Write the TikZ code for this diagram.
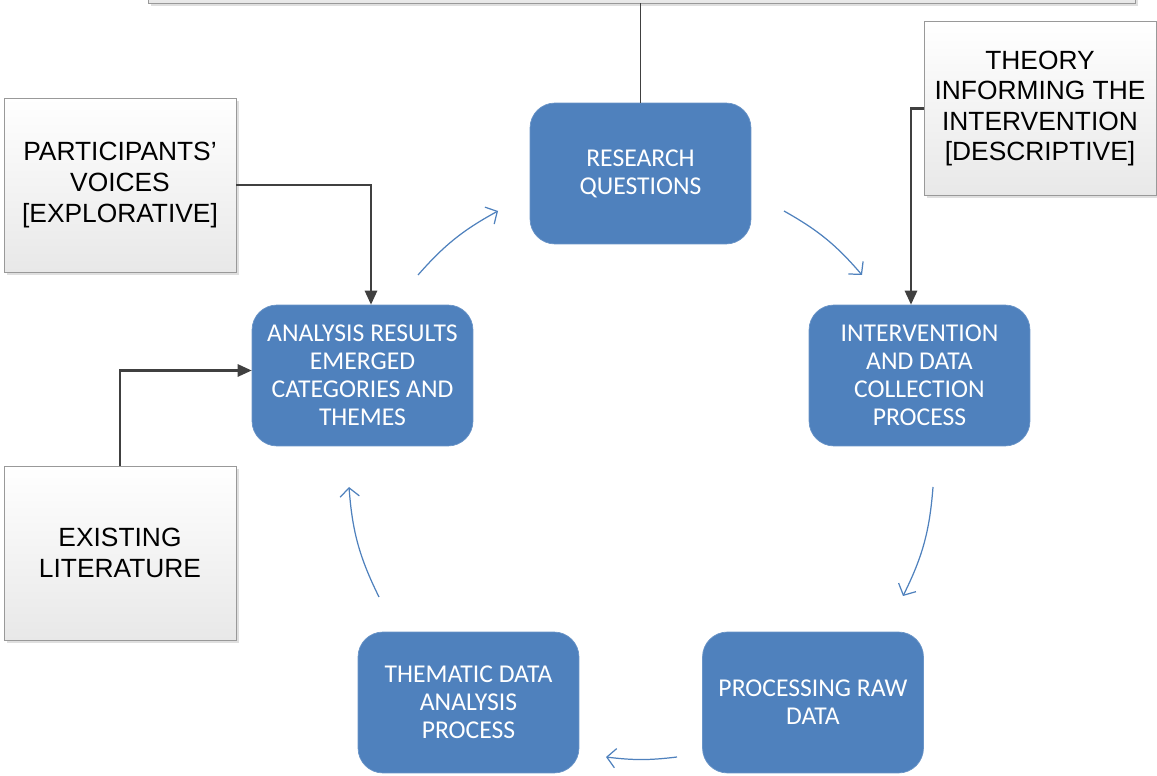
\documentclass[tikz,border=0pt]{standalone}
\usepackage{fontspec}
\setmainfont{Liberation Sans}
\newfontfamily\calib{Carlito}
\usetikzlibrary{arrows.meta,shadows}

\definecolor{officeblue}{RGB}{79,129,189}
\definecolor{linkgrey}{RGB}{64,64,64}

\begin{document}
\begin{tikzpicture}[x=0.02cm, y=-0.02cm,
  blubox/.style={draw=officeblue!85!white, fill=officeblue, rounded corners=0.5cm,
    minimum width=4.42cm, minimum height=2.82cm, align=center, text=white,
    font=\calib\fontsize{14.6}{15.9}\selectfont, inner sep=2pt},
  greybox/.style={draw=gray!80, top color=white, bottom color=gray!18,
    minimum width=4.64cm, minimum height=3.48cm, align=center,
    font=\fontsize{15}{17.4}\selectfont,
    drop shadow={shadow xshift=0.06cm, shadow yshift=-0.06cm, opacity=0.25}},
  link/.style={draw=linkgrey, line width=1.2pt, -{Triangle[length=8pt,width=7pt]}},
  cyc/.style={draw=officeblue, line width=0.7pt, -{Straight Barb[length=5pt,width=11pt]}}]

\useasboundingbox (0,0) rectangle (1157,776);
\clip (0,0) rectangle (1157,776);

% ── Top box (cut off) ──
\node[greybox, minimum width=19.74cm, minimum height=3cm] (top) at (641.5,-72) {};

% ── Cycle boxes ──
\node[blubox] (rq) at (640.5,173.5) {RESEARCH\\QUESTIONS};
\node[blubox] (iv) at (919.5,375.5) {INTERVENTION\\AND DATA\\COLLECTION\\PROCESS};
\node[blubox] (pr) at (813,702.5) {PROCESSING RAW\\DATA};
\node[blubox] (th) at (468.5,702.5) {THEMATIC DATA\\ANALYSIS\\PROCESS};
\node[blubox] (an) at (362.5,375.5) {ANALYSIS RESULTS\\EMERGED\\CATEGORIES AND\\THEMES};

% ── Input boxes ──
\node[greybox] (pv) at (120,185) {PARTICIPANTS’\\VOICES\\{[EXPLORATIVE]}};
\node[greybox] (el) at (120,553) {EXISTING\\LITERATURE};
\node[greybox] (ti) at (1040,108.5) {THEORY\\INFORMING THE\\INTERVENTION\\{[DESCRIPTIVE]}};

% ── Connectors ──
\draw[draw=linkgrey, line width=0.9pt] (top.south -| rq.north) -- (rq.north);
\draw[link] (pv.east) -| ([xshift=0.17cm]an.north);
\draw[link] (el.north) |- ([yshift=0.1cm]an.west);
\draw[link] (ti.west) -| ([xshift=-0.17cm]iv.north);

% ── Cycle arrows ──
\coordinate (a1) at (418,275);  \coordinate (b1) at (498,211);
\coordinate (a2) at (784,211);  \coordinate (b2) at (862,275);
\coordinate (a3) at (933,487);  \coordinate (b3) at (903,596);
\coordinate (a4) at (677,757);  \coordinate (b4) at (606,757);
\coordinate (a5) at (379,597);  \coordinate (b5) at (349,487);
\draw[cyc] (a1) to[bend left=10] (b1);
\draw[cyc] (a2) to[bend left=10] (b2);
\draw[cyc] (a3) to[bend left=11] (b3);
\draw[cyc] (a4) to[bend left=7] (b4);
\draw[cyc] (a5) to[bend left=11] (b5);

\end{tikzpicture}
\end{document}
